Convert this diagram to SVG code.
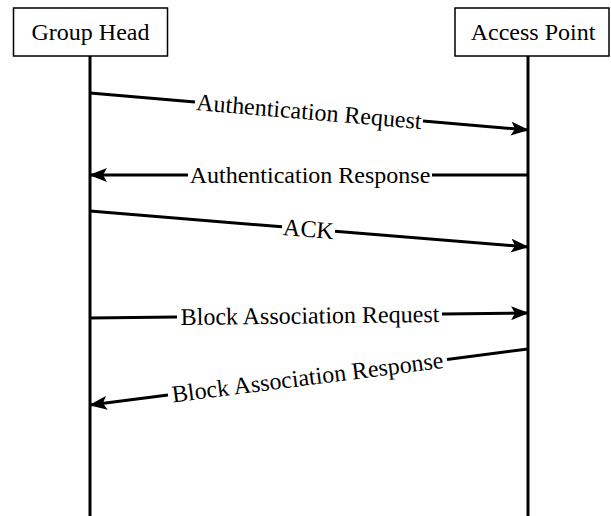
<svg xmlns="http://www.w3.org/2000/svg" width="611" height="516" viewBox="0 0 611 516">
<style>
.box{fill:#fff;stroke:#000;stroke-width:1.5}
.life{stroke:#000;stroke-width:3;fill:none}
.msg{stroke:#000;stroke-width:3;fill:none}
text{font-family:"Liberation Serif","Times New Roman",serif;font-size:24px;fill:#000;text-anchor:middle}
</style>
<defs>
<marker id="ah" markerUnits="userSpaceOnUse" markerWidth="18" markerHeight="14" refX="17" refY="7" orient="auto">
<path d="M0,0 L18,7 L0,14 L4,7 z" fill="#000"/>
</marker>
</defs>
<rect width="611" height="516" fill="#fff"/>
<g id="group-head">
<rect class="box" x="13.5" y="8" width="154" height="48"/>
<text x="90.5" y="40">Group Head</text>
</g>
<g id="access-point">
<rect class="box" x="455" y="8" width="154" height="48"/>
<text x="533" y="40">Access Point</text>
</g>
<g id="lifelines">
<line class="life" x1="90" y1="56" x2="90" y2="516"/>
<line class="life" x1="528" y1="56" x2="528" y2="516"/>
</g>
<g id="connectors">
<line class="msg" x1="90" y1="93" x2="195" y2="101.9"/>
<line class="msg" x1="423" y1="121.1" x2="528" y2="130" marker-end="url(#ah)"/>
<line class="msg" x1="528" y1="175" x2="432" y2="175"/>
<line class="msg" x1="188" y1="175" x2="90" y2="175" marker-end="url(#ah)"/>
<line class="msg" x1="90" y1="211" x2="282" y2="226.8"/>
<line class="msg" x1="335" y1="231.2" x2="528" y2="247" marker-end="url(#ah)"/>
<line class="msg" x1="90" y1="318" x2="177" y2="317"/>
<line class="msg" x1="442" y1="314" x2="528" y2="313" marker-end="url(#ah)"/>
<line class="msg" x1="528" y1="349" x2="447" y2="359.4"/>
<line class="msg" x1="168" y1="395.1" x2="90" y2="405" marker-end="url(#ah)"/>
</g>
<g id="labels">
<text transform="translate(309,111.5) rotate(4.83)" x="0" y="8">Authentication Request</text>
<text x="310" y="183">Authentication Response</text>
<text transform="translate(308.5,229) rotate(4.7)" x="0" y="8">ACK</text>
<text transform="translate(310,315.5) rotate(-0.65)" x="0" y="8">Block Association Request</text>
<text transform="translate(307.5,377.2) rotate(-7.29)" x="0" y="8">Block Association Response</text>
</g>
</svg>
